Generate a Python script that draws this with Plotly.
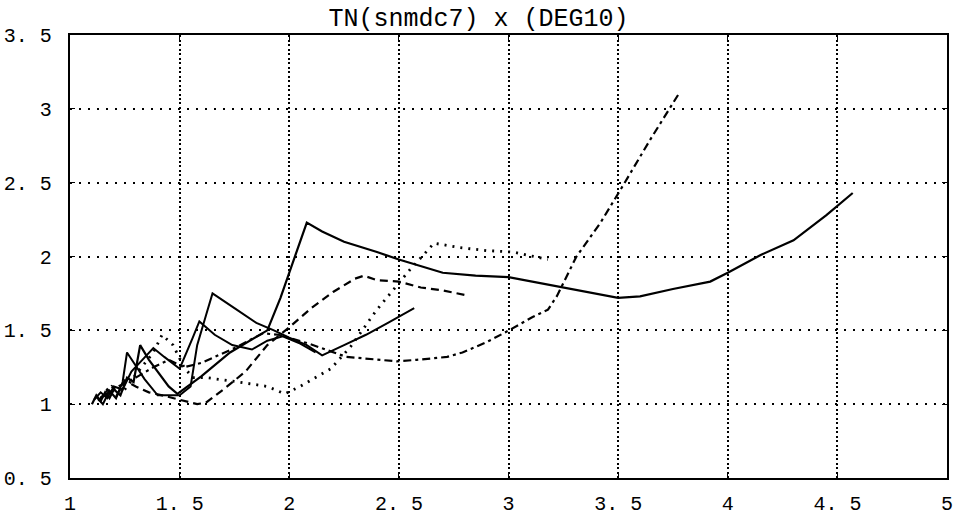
import plotly.graph_objects as go

# ---- data ----
x_tick_vals = [1, 1.5, 2, 2.5, 3, 3.5, 4, 4.5, 5]
x_tick_text = ["1", "1. 5", "2", "2. 5", "3", "3. 5", "4", "4. 5", "5"]
y_tick_vals = [0.5, 1, 1.5, 2, 2.5, 3, 3.5]
y_tick_text = ["0. 5", "1", "1. 5", "2", "2. 5", "3", "3. 5"]

s1_x = [1.10, 1.12, 1.14, 1.16, 1.18, 1.20, 1.23, 1.26, 1.29, 1.32, 1.36, 1.40, 1.45, 1.49,
        1.60, 1.73, 1.82, 1.90, 1.96, 2.02, 2.08, 2.15, 2.25, 2.40, 2.50, 2.70, 2.85, 3.00,
        3.25, 3.50, 3.60, 3.75, 3.92, 4.00, 4.15, 4.30, 4.45, 4.57]
s1_y = [1.00, 1.06, 1.02, 1.08, 1.04, 1.10, 1.06, 1.18, 1.15, 1.40, 1.30, 1.22, 1.12, 1.07,
        1.19, 1.35, 1.43, 1.50, 1.72, 1.98, 2.23, 2.17, 2.10, 2.03, 1.98, 1.89, 1.87, 1.86,
        1.79, 1.72, 1.73, 1.78, 1.83, 1.89, 2.01, 2.11, 2.28, 2.43]

s2_x = [1.11, 1.14, 1.17, 1.20, 1.24, 1.28, 1.33, 1.38, 1.43, 1.50, 1.56, 1.59, 1.66, 1.74,
        1.83, 1.90, 1.97, 2.05, 2.12]
s2_y = [1.03, 1.08, 1.04, 1.12, 1.10, 1.22, 1.30, 1.38, 1.32, 1.24, 1.45, 1.56, 1.47, 1.40,
        1.37, 1.43, 1.46, 1.41, 1.35]

s3_x = [1.12, 1.15, 1.18, 1.21, 1.24, 1.26, 1.30, 1.34, 1.40, 1.50, 1.55, 1.58, 1.62, 1.65,
        1.75, 1.85, 1.93, 2.00, 2.08, 2.15, 2.25, 2.35, 2.45, 2.57]
s3_y = [1.05, 1.00, 1.09, 1.04, 1.15, 1.35, 1.26, 1.17, 1.06, 1.06, 1.12, 1.40, 1.60, 1.75,
        1.65, 1.55, 1.50, 1.45, 1.40, 1.33, 1.40, 1.47, 1.55, 1.65]

s4_x = [1.13, 1.17, 1.21, 1.25, 1.30, 1.36, 1.42, 1.50, 1.58, 1.62, 1.70, 1.80, 1.90, 2.00,
        2.10, 2.20, 2.30, 2.34, 2.40, 2.50, 2.60, 2.70, 2.80]
s4_y = [1.02, 1.10, 1.05, 1.16, 1.12, 1.08, 1.06, 1.03, 1.00, 1.01, 1.10, 1.22, 1.40, 1.52,
        1.65, 1.76, 1.85, 1.87, 1.84, 1.83, 1.79, 1.77, 1.74]

s5_x = [1.14, 1.19, 1.24, 1.30, 1.38, 1.42, 1.47, 1.52, 1.56, 1.62, 1.77, 1.90, 1.98, 2.05,
        2.19, 2.28, 2.40, 2.49, 2.55, 2.63, 2.66, 2.78, 2.90, 3.02, 3.11, 3.18]
s5_y = [1.04, 1.12, 1.08, 1.20, 1.35, 1.47, 1.40, 1.25, 1.18, 1.18, 1.15, 1.12, 1.07, 1.12,
        1.24, 1.39, 1.64, 1.80, 1.91, 2.04, 2.09, 2.06, 2.04, 2.03, 2.00, 1.98]

s6_x = [1.15, 1.22, 1.30, 1.38, 1.45, 1.52, 1.60, 1.75, 1.88, 1.95, 2.09, 2.26, 2.34, 2.49,
        2.58, 2.72, 2.79, 2.90, 2.99, 3.11, 3.18, 3.22, 3.31, 3.42, 3.51, 3.65, 3.78]
s6_y = [1.05, 1.12, 1.18, 1.25, 1.30, 1.25, 1.28, 1.38, 1.48, 1.47, 1.41, 1.32, 1.31, 1.29,
        1.30, 1.32, 1.35, 1.42, 1.49, 1.59, 1.64, 1.73, 2.00, 2.23, 2.45, 2.80, 3.11]

series = [
    (s1_x, s1_y, "solid", 2.2),
    (s2_x, s2_y, "solid", 2.0),
    (s3_x, s3_y, "solid", 2.0),
    (s4_x, s4_y, "8px,5px", 2.2),
    (s5_x, s5_y, "2px,6px", 2.8),
    (s6_x, s6_y, "8px,4px,3px,4px", 2.2),
]

fig = go.Figure()
for xs, ys, dash, w in series:
    fig.add_trace(go.Scatter(x=xs, y=ys, mode="lines",
                             line=dict(color="black", width=w, dash=dash),
                             showlegend=False, hoverinfo="skip"))

tick_font = dict(family="Liberation Mono, DejaVu Sans Mono, monospace", size=20, color="black")

fig.update_layout(
    width=957, height=525,
    margin=dict(l=70, r=10, t=35, b=47, autoexpand=False),
    paper_bgcolor="white", plot_bgcolor="white",
    title=dict(text="TN(snmdc7) x (DEG10)",
               font=dict(family="Liberation Mono, DejaVu Sans Mono, monospace", size=25, color="black"),
               x=0.5, xref="container", xanchor="center",
               y=1 - 17 / 525, yref="container", yanchor="middle"),
    xaxis=dict(range=[1, 5], tickvals=x_tick_vals, ticktext=x_tick_text,
               showgrid=True, gridcolor="black", gridwidth=1.8, griddash="2px,2.5px",
               showline=True, linecolor="black", linewidth=2.4, mirror="ticks",
               ticks="inside", ticklen=5, tickcolor="black", automargin=False,
               zeroline=False, tickfont=tick_font, ticklabelstandoff=6),
    yaxis=dict(range=[0.5, 3.5], tickvals=y_tick_vals, ticktext=y_tick_text,
               showgrid=True, gridcolor="black", gridwidth=1.8, griddash="2px,7px",
               showline=True, linecolor="black", linewidth=2.4, mirror="ticks",
               ticks="inside", ticklen=5, tickcolor="black", automargin=False,
               zeroline=False, tickfont=tick_font, ticklabelstandoff=12),
)

fig.write_html("out.html")
